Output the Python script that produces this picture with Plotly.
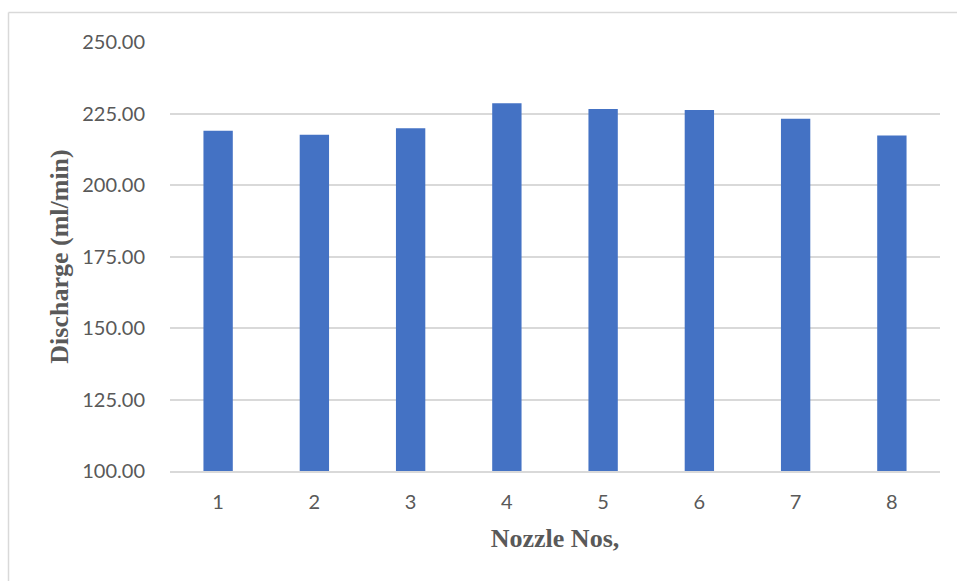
import plotly.graph_objects as go

# Discharge measured at each nozzle
nozzles = ["1", "2", "3", "4", "5", "6", "7", "8"]
discharge = [219.0, 217.6, 219.8, 228.6, 226.6, 226.2, 223.2, 217.3]

y_ticks = [100, 125, 150, 175, 200, 225, 250]
y_tick_text = [f"{v:.2f}" for v in y_ticks]

W, H = 957, 581
ML, MR, MT, MB = 170, 17, 42, 110
pw, ph = W - ML - MR, H - MT - MB

fig = go.Figure(
    go.Bar(
        x=nozzles,
        y=discharge,
        marker=dict(color="#4472C4", line=dict(width=0)),
        hoverinfo="x+y",
    )
)

axis_font = dict(family="Lato, Carlito, sans-serif", size=20, color="#595959")
title_font = dict(family="Liberation Serif, Times New Roman, serif", size=26, color="#595959")

fig.update_layout(
    width=W,
    height=H,
    margin=dict(l=ML, r=MR, t=MT, b=MB),
    paper_bgcolor="white",
    plot_bgcolor="white",
    bargap=0.695,
    showlegend=False,
    xaxis=dict(
        type="category",
        showgrid=False,
        showline=True,
        linecolor="#d9d9d9",
        linewidth=1.5,
        ticks="",
        tickfont=axis_font,
        ticklabelstandoff=12,
        title=dict(text="<b>Nozzle Nos,</b>", font=title_font, standoff=17),
    ),
    yaxis=dict(
        range=[100, 250],
        tickvals=y_ticks,
        ticktext=y_tick_text,
        showgrid=True,
        gridcolor="#d9d9d9",
        gridwidth=1.5,
        zeroline=False,
        showline=False,
        ticks="",
        tickfont=axis_font,
        ticklabelstandoff=24,
        title=dict(text="<b>Discharge (ml/min)</b>", font=title_font, standoff=6),
    ),
)

# Light chart-area border (top and left edges)
x_left = (8.5 - ML) / pw
y_top = (H - MB - 12.5) / ph
fig.add_shape(type="line", xref="paper", yref="paper",
              x0=x_left, y0=y_top, x1=(W + 5 - ML) / pw, y1=y_top,
              line=dict(color="#d9d9d9", width=1.5))
fig.add_shape(type="line", xref="paper", yref="paper",
              x0=x_left, y0=y_top, x1=x_left, y1=-(MB + 5) / ph,
              line=dict(color="#d9d9d9", width=1.5))

fig.write_html("out.html")
